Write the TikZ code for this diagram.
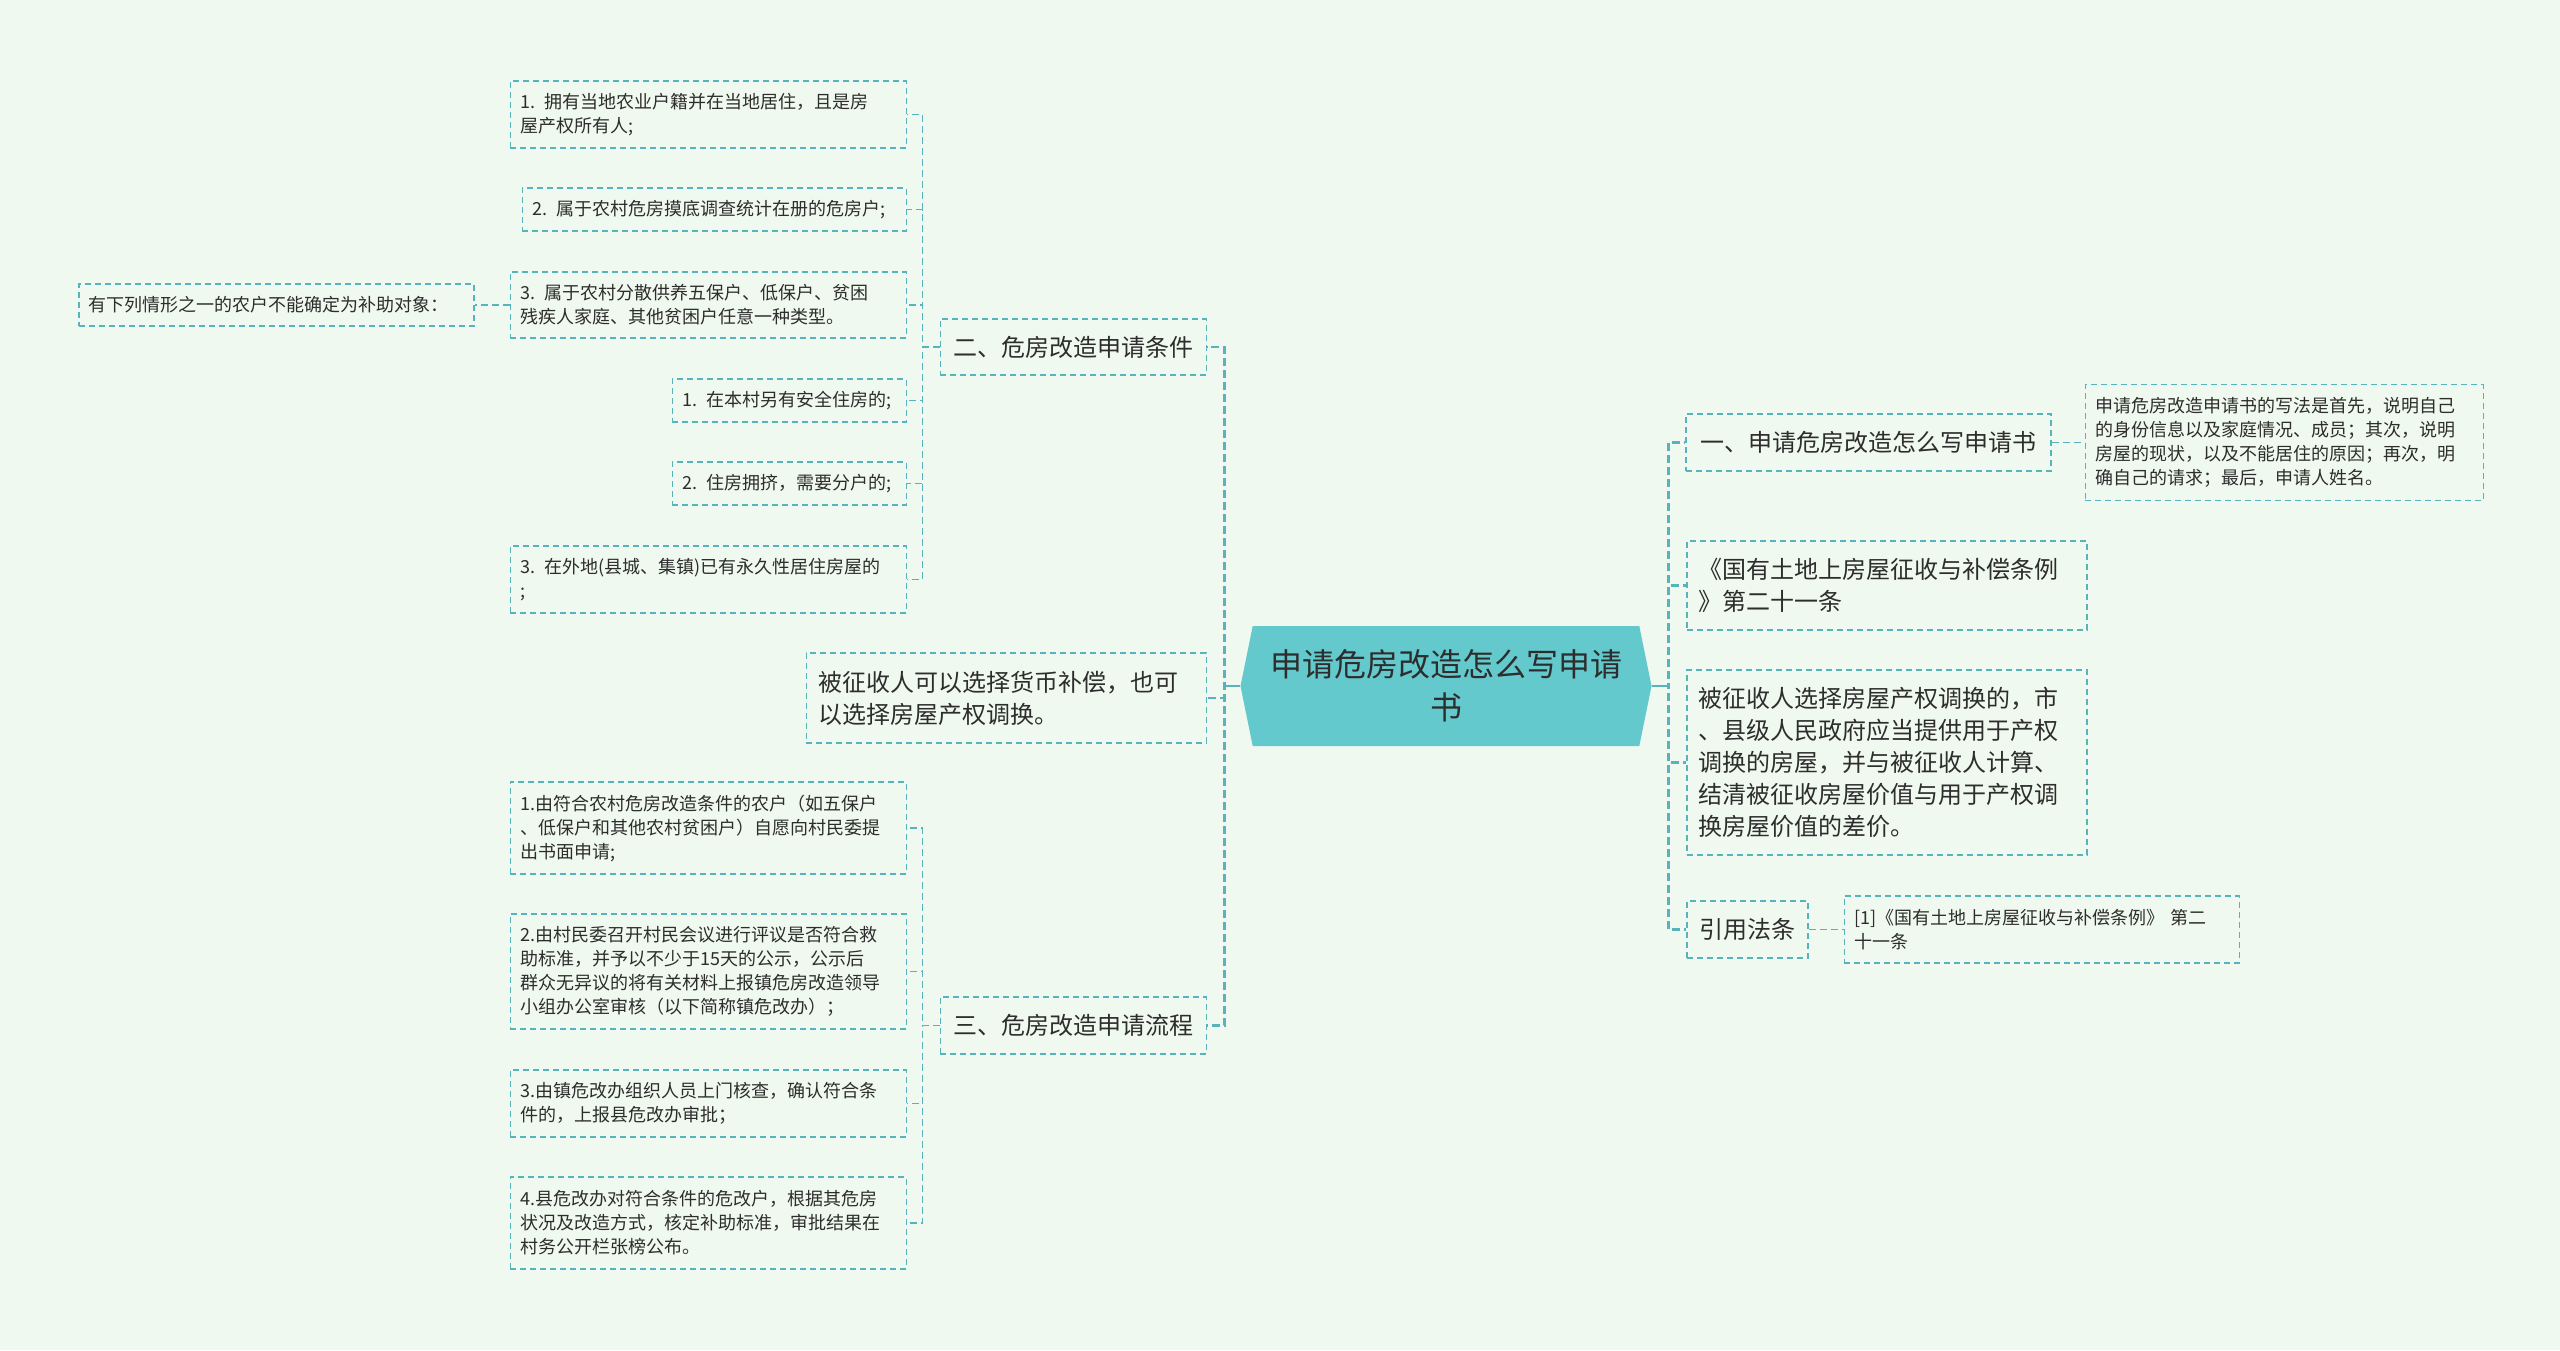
\documentclass[tikz,border=0pt]{standalone}
\usepackage{fontspec}
\usepackage{xcolor}
\usepackage{tikz}
\usetikzlibrary{shapes.symbols, positioning}
\newfontfamily\cjk{Noto Sans CJK SC}
\definecolor{bgmint}{RGB}{240,249,239}
\definecolor{rootteal}{RGB}{99,201,204}
\definecolor{linkteal}{RGB}{88,180,188}
\definecolor{textdark}{RGB}{45,45,45}
\tikzset{
  rootbox/.style={
    shape=signal, signal to=east and west, signal pointer angle=157,
    fill=rootteal, minimum width=411pt, minimum height=120pt, inner sep=0pt,
    align=center, font=\cjk\fontsize{32}{43}\selectfont, text=textdark
  },
  branch/.style={
    rectangle, draw=linkteal, line width=1.5pt, dash pattern=on 6pt off 4pt,
    inner xsep=12pt, inner ysep=6pt, align=left,
    font=\cjk\fontsize{24}{32}\selectfont, text=textdark
  },
  leaf/.style={
    rectangle, draw=linkteal, line width=1.5pt, dash pattern=on 6pt off 4pt,
    inner xsep=10pt, inner ysep=6pt, align=left,
    font=\cjk\fontsize{18}{24}\selectfont, text=textdark
  },
  trunk/.style={draw=linkteal, line width=2.6pt, dash pattern=on 8pt off 4pt},
  stub/.style={draw=linkteal, line width=2.6pt},
  link/.style={draw=linkteal, line width=1.5pt, dash pattern=on 7pt off 4pt}
}

\begin{document}
\begin{tikzpicture}[x=1pt, y=-1pt]
  \useasboundingbox (0,0) rectangle (2560,1350);
  \fill[bgmint] (0,0) rectangle (2560,1350);

  % Root
  \node[rootbox] (root) at (1446,686) {申请危房改造怎么写申请\\书};

  % Left: conditions
  \node[branch, anchor=east, minimum width=266pt, minimum height=56pt, align=center]
    (sec_two) at (1207,347) {二、危房改造申请条件};
  \node[leaf, anchor=east, text width=376pt, minimum height=67pt] (cond_a) at (907,114.5)
    {1. 拥有当地农业户籍并在当地居住，且是房\\屋产权所有人;};
  \node[leaf, anchor=east, text width=364pt, minimum height=43pt] (cond_b) at (907,209.5)
    {2. 属于农村危房摸底调查统计在册的危房户;};
  \node[leaf, anchor=east, text width=376pt, minimum height=66pt] (cond_c) at (907,305)
    {3. 属于农村分散供养五保户、低保户、贫困\\残疾人家庭、其他贫困户任意一种类型。};
  \node[leaf, text width=375pt, minimum height=42pt, left=35pt of cond_c] (not_cond)
    {有下列情形之一的农户不能确定为补助对象：};
  \node[leaf, anchor=east, text width=214pt, minimum height=43pt] (excl_a) at (907,400.5)
    {1. 在本村另有安全住房的;};
  \node[leaf, anchor=east, text width=214pt, minimum height=43pt] (excl_b) at (907,483.5)
    {2. 住房拥挤，需要分户的;};
  \node[leaf, anchor=east, text width=376pt, minimum height=67pt] (excl_c) at (907,579.5)
    {3. 在外地(县城、集镇)已有永久性居住房屋的\\;};

  \draw[link] (sec_two.west) -- ++(-17,0) |- (cond_a.east);
  \draw[link] (sec_two.west) -- ++(-17,0) |- (cond_b.east);
  \draw[link] (sec_two.west) -- ++(-17,0) |- (cond_c.east);
  \draw[link] (sec_two.west) -- ++(-17,0) |- (excl_a.east);
  \draw[link] (sec_two.west) -- ++(-17,0) |- (excl_b.east);
  \draw[link] (sec_two.west) -- ++(-17,0) |- (excl_c.east);
  \draw[link] (cond_c) -- (not_cond);

  % Left: money or swap
  \node[branch, anchor=east, text width=376pt, minimum height=90pt] (money) at (1207,698)
    {被征收人可以选择货币补偿，也可\\以选择房屋产权调换。};

  % Left: procedure
  \node[branch, anchor=east, minimum width=266pt, minimum height=57pt, align=center]
    (sec_three) at (1207,1025.5) {三、危房改造申请流程};
  \node[leaf, anchor=east, text width=376pt, minimum height=92pt] (step_a) at (907,828)
    {1.由符合农村危房改造条件的农户（如五保户\\、低保户和其他农村贫困户）自愿向村民委提\\出书面申请;};
  \node[leaf, anchor=east, text width=376pt, minimum height=115pt] (step_b) at (907,971.5)
    {2.由村民委召开村民会议进行评议是否符合救\\助标准，并予以不少于15天的公示，公示后\\群众无异议的将有关材料上报镇危房改造领导\\小组办公室审核（以下简称镇危改办）；};
  \node[leaf, anchor=east, text width=376pt, minimum height=67pt] (step_c) at (907,1103.5)
    {3.由镇危改办组织人员上门核查，确认符合条\\件的，上报县危改办审批；};
  \node[leaf, anchor=east, text width=376pt, minimum height=92pt] (step_d) at (907,1223)
    {4.县危改办对符合条件的危改户，根据其危房\\状况及改造方式，核定补助标准，审批结果在\\村务公开栏张榜公布。};

  \draw[link] (sec_three.west) -- ++(-17,0) |- (step_a.east);
  \draw[link] (sec_three.west) -- ++(-17,0) |- (step_b.east);
  \draw[link] (sec_three.west) -- ++(-17,0) |- (step_c.east);
  \draw[link] (sec_three.west) -- ++(-17,0) |- (step_d.east);

  % Right side
  \node[branch, anchor=west, minimum width=365pt, minimum height=57pt, align=center]
    (sec_one) at (1685,442.5) {一、申请危房改造怎么写申请书};
  \node[leaf, text width=378pt, minimum height=116pt, right=33pt of sec_one] (how_to)
    {申请危房改造申请书的写法是首先，说明自己\\的身份信息以及家庭情况、成员；其次，说明\\房屋的现状，以及不能居住的原因；再次，明\\确自己的请求；最后，申请人姓名。};
  \node[branch, anchor=west, text width=376pt, minimum height=89pt] (law) at (1686,585.5)
    {《国有土地上房屋征收与补偿条例\\》第二十一条};
  \node[branch, anchor=west, text width=376pt, minimum height=185pt] (swap) at (1686,762.5)
    {被征收人选择房屋产权调换的，市\\、县级人民政府应当提供用于产权\\调换的房屋，并与被征收人计算、\\结清被征收房屋价值与用于产权调\\换房屋价值的差价。};
  \node[branch, anchor=west, minimum width=121pt, minimum height=57pt, align=center]
    (cite) at (1686,929.5) {引用法条};
  \node[leaf, text width=375pt, minimum height=67pt, right=35pt of cite] (cite_one)
    {[1]《国有土地上房屋征收与补偿条例》 第二\\十一条};

  \draw[link] (sec_one) -- (how_to);
  \draw[link] (cite) -- (cite_one);

  % Root to branches
  \draw[trunk] (root.west) -- ++(-16,0) |- (sec_two.east);
  \draw[trunk] (root.west) -- ++(-16,0) |- (money.east);
  \draw[trunk] (root.west) -- ++(-16,0) |- (sec_three.east);
  \draw[trunk] (root.east) -- ++(17,0) |- (sec_one.west);
  \draw[trunk] (root.east) -- ++(17,0) |- (law.west);
  \draw[trunk] (root.east) -- ++(17,0) |- (swap.west);
  \draw[trunk] (root.east) -- ++(17,0) |- (cite.west);
  \draw[stub] (root.west) -- ++(-16,0);
  \draw[stub] (root.east) -- ++(17,0);
\end{tikzpicture}
\end{document}
